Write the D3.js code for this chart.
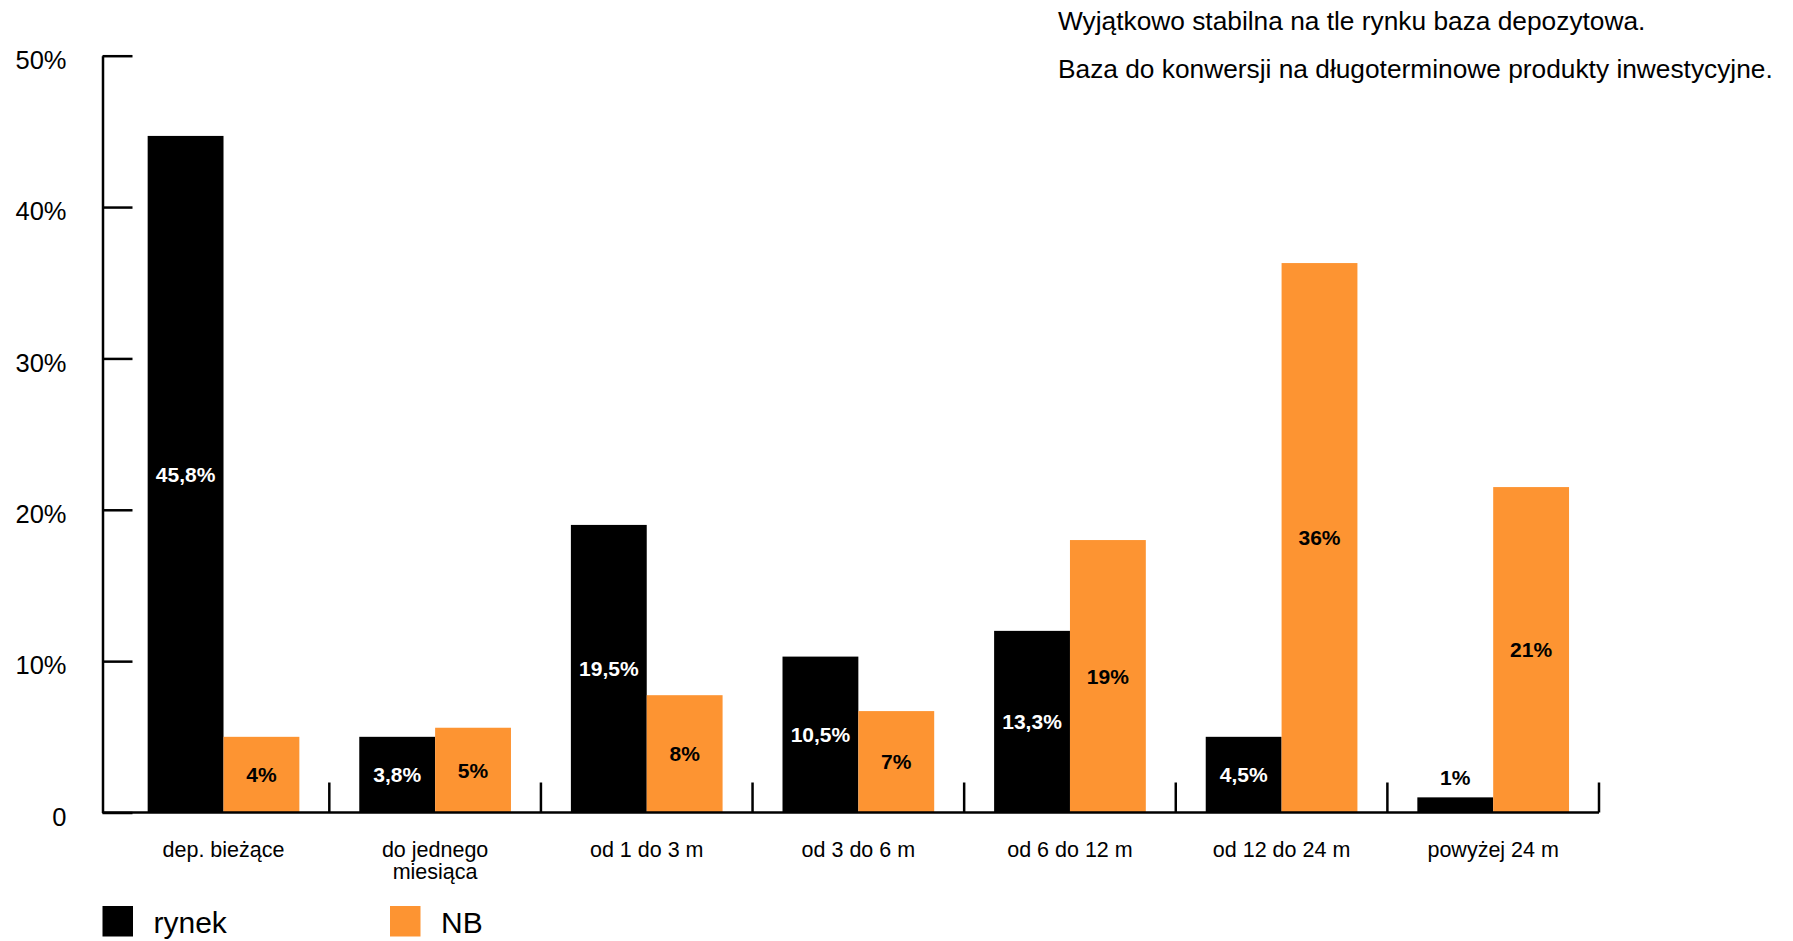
<!DOCTYPE html>
<html>
<head>
<meta charset="utf-8">
<script src="https://cdn.jsdelivr.net/npm/d3@7"></script>
<style>
  html, body { margin: 0; padding: 0; background: #fff; }
  svg { display: block; font-family: "Liberation Sans", Arial, sans-serif; }
</style>
</head>
<body>
<svg id="chart" width="1793" height="941"></svg>
<script>
// ---- data ----
const categories = ["dep. bieżące", "do jednego\nmiesiąca", "od 1 do 3 m", "od 3 do 6 m", "od 6 do 12 m", "od 12 do 24 m", "powyżej 24 m"];
const seriesNames = ["rynek", "NB"];
const rynekValues = [44.7, 5.0, 19.0, 10.3, 12.0, 5.0, 1.0];
const nbValues = [5.0, 5.6, 7.75, 6.7, 18.0, 36.3, 21.5];
const rynekLabels = ["45,8%", "3,8%", "19,5%", "10,5%", "13,3%", "4,5%", "1%"];
const nbLabels = ["4%", "5%", "8%", "7%", "19%", "36%", "21%"];
const yTickValues = [0, 10, 20, 30, 40, 50];
const yTickLabels = ["0", "10%", "20%", "30%", "40%", "50%"];
const titleLines = ["Wyjątkowo stabilna na tle rynku baza depozytowa.", "Baza do konwersji na długoterminowe produkty inwestycyjne."];
const seriesColors = ["#000000", "#fd9432"];
const labelColors = ["#ffffff", "#000000"];

// ---- layout ----
const svg = d3.select("#chart");
const axisX = 102.5;
const baseY = 812.5;

const x0 = d3.scaleBand().domain(categories).range([117.7, 1599]).paddingInner(0).paddingOuter(0);
const x1 = d3.scaleBand().domain(seriesNames).range([0, x0.bandwidth()]).paddingInner(0).paddingOuter(0.395);
const y = d3.scaleLinear().domain([0, 50]).range([baseY, 55.7]);
const color = d3.scaleOrdinal().domain(seriesNames).range(seriesColors);
const lblColor = d3.scaleOrdinal().domain(seriesNames).range(labelColors);

const rows = categories.map((c, i) => ({
  cat: c,
  items: [
    { s: "rynek", v: rynekValues[i], label: rynekLabels[i] },
    { s: "NB", v: nbValues[i], label: nbLabels[i] }
  ]
}));

// bars
const groups = svg.append("g").selectAll("g").data(rows).join("g")
  .attr("transform", d => `translate(${x0(d.cat)},0)`);

groups.selectAll("rect").data(d => d.items).join("rect")
  .attr("x", d => x1(d.s))
  .attr("width", x1.bandwidth())
  .attr("y", d => y(d.v))
  .attr("height", d => y(0) - y(d.v))
  .attr("fill", d => color(d.s));

// value labels
groups.selectAll("text").data(d => d.items).join("text")
  .attr("x", d => x1(d.s) + x1.bandwidth() / 2)
  .attr("y", d => {
    const h = y(0) - y(d.v);
    return h < 30 ? y(d.v) - 20 : (y(d.v) + y(0)) / 2;
  })
  .attr("dy", "0.36em")
  .attr("text-anchor", "middle")
  .attr("font-size", 21)
  .attr("font-weight", "bold")
  .attr("fill", d => (y(0) - y(d.v)) < 30 ? "#000" : lblColor(d.s))
  .text(d => d.label);

// y axis
const yAxis = d3.axisLeft(y)
  .tickValues(yTickValues)
  .tickFormat((d, i) => yTickLabels[i])
  .tickSizeInner(-30)
  .tickSizeOuter(0)
  .tickPadding(36);

const gy = svg.append("g").attr("transform", `translate(${axisX},0)`).call(yAxis);
gy.select(".domain").attr("stroke", "#000").attr("stroke-width", 2.5);
gy.selectAll(".tick line").attr("stroke", "#000").attr("stroke-width", 2.5);
gy.selectAll(".tick text")
  .attr("font-family", "'Liberation Sans', Arial, sans-serif")
  .attr("font-size", 25.5)
  .attr("fill", "#000")
  .attr("dy", "0.5em");

// x axis baseline
svg.append("line")
  .attr("x1", axisX).attr("x2", x0.range()[1])
  .attr("y1", y(0)).attr("y2", y(0))
  .attr("stroke", "#000").attr("stroke-width", 2.5);

// category separators
svg.append("g").selectAll("line").data(categories).join("line")
  .attr("x1", d => x0(d) + x0.bandwidth())
  .attr("x2", d => x0(d) + x0.bandwidth())
  .attr("y1", y(0))
  .attr("y2", y(0) - 30)
  .attr("stroke", "#000").attr("stroke-width", 2.5);

// category labels
const catText = svg.append("g").selectAll("text").data(categories).join("text")
  .attr("x", d => x0(d) + x0.bandwidth() / 2)
  .attr("y", 857)
  .attr("text-anchor", "middle")
  .attr("font-size", 21.5)
  .attr("fill", "#000");
catText.each(function(d) {
  const t = d3.select(this);
  d.split("\n").forEach((line, i) => {
    t.append("tspan")
      .attr("x", x0(d) + x0.bandwidth() / 2)
      .attr("dy", i === 0 ? 0 : 22)
      .text(line);
  });
});

// legend
const legendX = [102.5, 390];
const leg = svg.append("g").selectAll("g").data(seriesNames).join("g")
  .attr("transform", (d, i) => `translate(${legendX[i]},906)`);
leg.append("rect").attr("width", 30.5).attr("height", 30.5).attr("fill", d => color(d));
leg.append("text").attr("x", 51).attr("y", 27).attr("font-size", 30).attr("fill", "#000").text(d => d);

// title
svg.append("g").selectAll("text").data(titleLines).join("text")
  .attr("x", 1058)
  .attr("y", (d, i) => 30 + i * 48)
  .attr("font-size", 26.3)
  .attr("fill", "#000")
  .text(d => d);
</script>
</body>
</html>
